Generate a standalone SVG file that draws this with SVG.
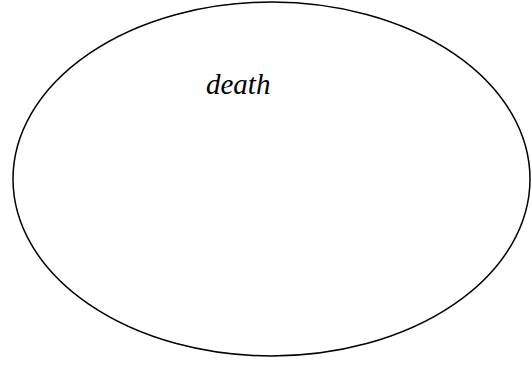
<svg xmlns="http://www.w3.org/2000/svg" width="532" height="365" viewBox="0 0 532 365">
<style>
.shape{fill:none;stroke:#000;stroke-width:1.5}
.lbl{font-family:"Liberation Serif",serif;font-style:italic;font-size:29px;fill:#000}
</style>
<rect width="532" height="365" fill="#fff"/>
<g id="node-death">
<ellipse class="shape" cx="271.5" cy="179" rx="258.5" ry="177"/>
<text class="lbl" x="206" y="94">death</text>
</g>
<g id="connectors"></g>
</svg>
